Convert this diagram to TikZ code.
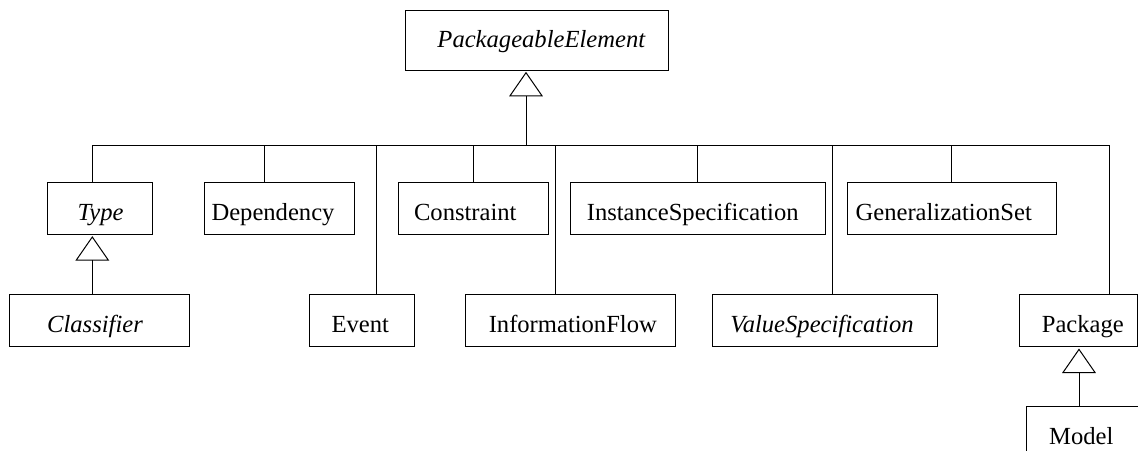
\documentclass[tikz,border=0pt]{standalone}
\usepackage{fontspec}
\setmainfont{Liberation Serif}
\usetikzlibrary{arrows.meta}
\begin{document}
\begin{tikzpicture}[x=1pt,y=-1pt, line width=1pt,
  box/.style={draw, line width=1pt, inner sep=0pt, outer sep=0pt, anchor=north west},
  lbl/.style={anchor=base, inner sep=0pt, font=\fontsize{24.6}{28}\selectfont},
  ilbl/.style={anchor=base, inner sep=0pt, font=\fontsize{24.6}{28}\selectfont\itshape},
  gen/.style={-{Triangle[open,length=24.5pt,width=33.7pt]}, shorten >=1.8pt}]
\useasboundingbox (0,0) rectangle (1138,450);
\clip (0,0) rectangle (1138,450);
% boxes
\node[box, minimum width=262.6pt, minimum height=60pt] (pe) at (405.7,10) {};
\node[box, minimum width=105pt, minimum height=52pt] (type) at (47.3,182.3) {};
\node[box, minimum width=150pt, minimum height=52pt] (dep) at (204,182.3) {};
\node[box, minimum width=150pt, minimum height=52pt] (con) at (398.3,182.3) {};
\node[box, minimum width=254.3pt, minimum height=52pt] (ins) at (570.7,182.3) {};
\node[box, minimum width=209.4pt, minimum height=52pt] (gset) at (847.3,182.3) {};
\node[box, minimum width=180pt, minimum height=52.4pt] (cla) at (9.3,294.3) {};
\node[box, minimum width=105pt, minimum height=52.4pt] (evt) at (309,294.3) {};
\node[box, minimum width=210pt, minimum height=52.4pt] (inf) at (465.7,294.3) {};
\node[box, minimum width=224.6pt, minimum height=52.4pt] (val) at (712.7,294.3) {};
\node[box, minimum width=118pt, minimum height=52.4pt] (pkg) at (1019.3,294.3) {};
\node[box, minimum width=116pt, minimum height=54pt] (mod) at (1026.7,406.7) {};
% labels
\node[ilbl] (pe-t) at (541.3,47.7) {PackageableElement};
\node[ilbl] (type-t) at (100.5,220.3) {Type};
\node[lbl] (dep-t) at (273,220.3) {Dependency};
\node[lbl] (con-t) at (465.3,220.3) {Constraint};
\node[lbl] (ins-t) at (692.7,220.3) {InstanceSpecification};
\node[lbl] (gset-t) at (943.7,220.3) {GeneralizationSet};
\node[ilbl] (cla-t) at (95,332) {Classifier};
\node[lbl] (evt-t) at (360.3,332) {Event};
\node[lbl] (inf-t) at (572.8,332) {InformationFlow};
\node[ilbl] (val-t) at (822,332) {ValueSpecification};
\node[lbl] (pkg-t) at (1082.8,332) {Package};
\node[lbl] (mod-t) at (1081.3,444.3) {Model};
% bus junctions
\coordinate (j0) at (526,145);
\coordinate (jtype) at (92.3,145);
\coordinate (jdep) at (264.3,145);
\coordinate (jevt) at (376.7,145);
\coordinate (jcon) at (473.3,145);
\coordinate (jinf) at (555.7,145);
\coordinate (jins) at (697.7,145);
\coordinate (jval) at (832.7,145);
\coordinate (jgset) at (951.7,145);
\coordinate (jpkg) at (1109.3,145);
% connectors
\draw[gen] (j0) -- (j0 |- pe.south);
\draw (jtype) -- (jpkg) -- (jpkg |- pkg.north);
\draw (jtype) -- (jtype |- type.north);
\draw (jdep) -- (jdep |- dep.north);
\draw (jevt) -- (jevt |- evt.north);
\draw (jcon) -- (jcon |- con.north);
\draw (jinf) -- (jinf |- inf.north);
\draw (jins) -- (jins |- ins.north);
\draw (jval) -- (jval |- val.north);
\draw (jgset) -- (jgset |- gset.north);
\coordinate (jcla) at (92.3,294.3);
\draw[gen] (jcla) -- (jcla |- type.south);
\coordinate (jmod) at (1079,406.7);
\draw[gen] (jmod) -- (jmod |- pkg.south);
\end{tikzpicture}
\end{document}
